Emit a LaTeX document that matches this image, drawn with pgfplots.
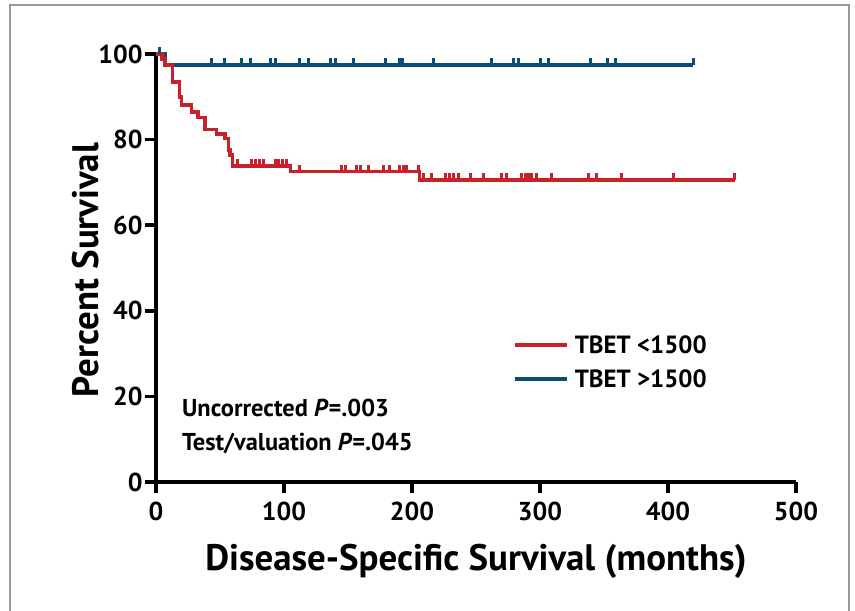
\documentclass[border=0pt]{standalone}
\usepackage{pgfplots}
\pgfplotsset{compat=1.18}
\usepackage{fontspec}
\setmainfont{PT Sans}
\definecolor{kmred}{RGB}{201,33,42}
\definecolor{kmblue}{RGB}{12,78,115}
\pgfdeclareplotmark{cens}{\pgfpathmoveto{\pgfqpoint{0pt}{0pt}}\pgfpathlineto{\pgfqpoint{0pt}{7bp}}\pgfusepathqstroke}
\begin{document}
\begin{tikzpicture}
\path[use as bounding box] (-156bp,-129bp) rectangle (699bp,482bp);
\draw[color=black!40, line width=1.5bp] (-146bp,-129bp) -- (-146bp,477bp) -- (693bp,477bp) -- (693bp,-129bp);
\begin{axis}[at={(0,0)}, anchor=south west, scale only axis,
  width=640bp, height=428bp,
  xmin=0, xmax=500, ymin=0, ymax=100,
  axis lines=left, axis line style={-, line width=4bp, black},
  clip=false,
  xtick={0,100,...,500}, ytick={0,20,...,100},
  tick align=outside, major tick length=11bp,
  tick style={line width=3.5bp, black},
  ticklabel style={font=\fontsize{26}{30}\selectfont\bfseries},
  xticklabel style={yshift=-5bp},
  yticklabel style={xshift=1bp},
  /pgf/number format/assume math mode=true,
  xlabel={Disease-Specific Survival (months)},
  ylabel={Percent Survival},
  label style={font=\fontsize{37}{42}\selectfont\bfseries},
  xlabel style={at={(axis description cs:0.5,-0.186)}, anchor=center},
  ylabel style={at={(axis description cs:-0.11,0.495)}, anchor=center},
  legend style={at={(axis cs:279,34.8)}, anchor=north west, draw=none, fill=none,
    font=\fontsize{25}{29}\selectfont\bfseries, row sep=11bp, inner sep=0pt,
    nodes={inner xsep=6bp}},
  legend cell align=left,
  legend image code/.code={\draw[#1, line width=3.5bp] (0bp,0bp) -- (52bp,0bp);},
]
\addplot[kmblue, line width=3.5bp, const plot, forget plot] coordinates {(0,100) (7,97.4) (419.8,97.4)};
\addplot[kmblue, only marks, mark=cens, mark options={line width=3bp, solid}, forget plot] coordinates {
(2.6,100) (43,97.4) (53.9,97.4) (67,97.4) (74,97.4) (89.6,97.4) (93.5,97.4) (112,97.4) (119,97.4)
(136.5,97.4) (140.6,97.4) (154,97.4) (179.5,97.4) (190,97.4) (192.4,97.4) (217,97.4) (262.3,97.4)
(279,97.4) (283,97.4) (300,97.4) (307,97.4) (339.6,97.4) (352.6,97.4) (358.6,97.4) (419.8,97.4)};
\addplot[kmred, line width=3.5bp, const plot] coordinates {
(0,100) (4.5,98.8) (7,97.4) (12.7,93.5) (18.2,90.0) (20,88.1) (27.9,86.5) (33,85.2) (38.3,82.4)
(47.4,81.3) (53.9,80.2) (56.5,77.6) (57.8,76.4) (59.9,73.8) (105,72.5) (206,70.6) (452,70.6)};
\addlegendentry{TBET <1500}
\addplot[kmred, only marks, mark=cens, mark options={line width=3bp, solid}, forget plot] coordinates {
(63.5,73.8) (75,73.8) (78,73.8) (81,73.8) (84,73.8) (93,73.8) (96,73.8) (99,73.8) (102,73.8)
(112.5,72.5) (145,72.5) (147.7,72.5) (156.8,72.5) (159.4,72.5) (166,72.5) (177.6,72.5) (182.8,72.5)
(190.6,72.5) (193.2,72.5) (195.9,72.5) (205,72.5)
(208.9,70.6) (215.4,70.6) (225.8,70.6) (229.2,70.6) (232.3,70.6) (236.2,70.6) (245.8,70.6) (255.7,70.6)
(270,70.6) (274,70.6) (285.7,70.6) (288.3,70.6) (290.9,70.6) (293.5,70.6) (297.4,70.6) (309,70.6)
(337.8,70.6) (344.3,70.6) (363.8,70.6) (404,70.6) (452,70.6)};
\addlegendimage{kmblue, line width=3.5bp}
\addlegendentry{TBET >1500}
\node[anchor=west, inner sep=0pt, font=\fontsize{24.5}{29}\selectfont\bfseries] at (axis cs:20.3,17.3) {Uncorrected \textit{P}=.003};
\node[anchor=west, inner sep=0pt, font=\fontsize{24.5}{29}\selectfont\bfseries] at (axis cs:20.3,9.1) {Test/valuation \textit{P}=.045};
\end{axis}
\end{tikzpicture}
\end{document}
